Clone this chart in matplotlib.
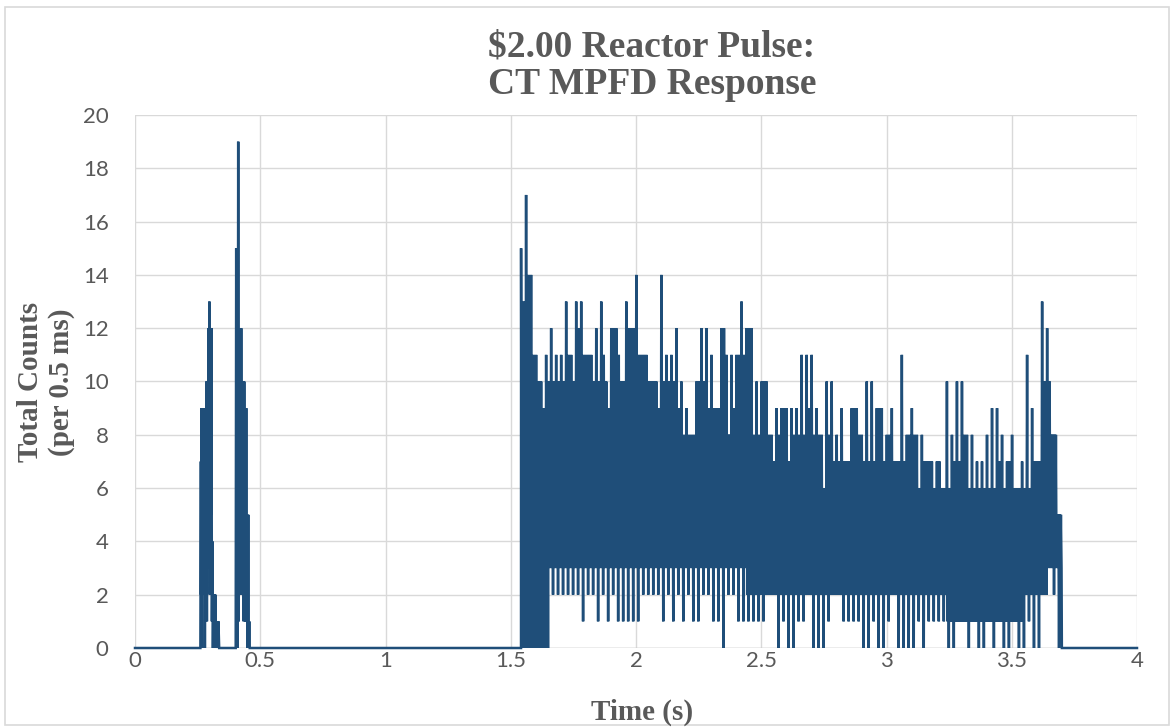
import matplotlib
matplotlib.use("Agg")
import matplotlib.pyplot as plt
from matplotlib.patches import Rectangle

# ---- data -------------------------------------------------------------
# first prompt burst (time in s, counts per 0.5 ms bin)
BURST1_T = [0.261, 0.263, 0.264, 0.265, 0.267, 0.268, 0.270, 0.271, 0.273,
            0.274, 0.276, 0.277, 0.279, 0.281, 0.283, 0.285, 0.287, 0.289,
            0.291, 0.293, 0.295, 0.297, 0.299, 0.301, 0.303, 0.305, 0.307,
            0.309, 0.311, 0.313, 0.315, 0.317, 0.319, 0.321, 0.323, 0.326,
            0.330, 0.333, 0.336]
BURST1_N = [0, 7, 2, 9, 0, 9, 3, 9, 2,
            9, 4, 9, 0, 9, 2, 10, 1, 10,
            3, 12, 4, 13, 2, 12, 5, 12, 1,
            4, 0, 2, 0, 2, 0, 2, 0, 1,
            0, 1, 0]

# second prompt burst
BURST2_T = [0.402, 0.404, 0.406, 0.408, 0.410, 0.412, 0.414, 0.416, 0.418,
            0.420, 0.422, 0.424, 0.426, 0.428, 0.430, 0.432, 0.434, 0.436,
            0.438, 0.440, 0.442, 0.444, 0.446, 0.448, 0.450, 0.452, 0.454,
            0.456, 0.458]
BURST2_N = [0, 15, 0, 15, 0, 19, 1, 12, 3,
            12, 2, 12, 3, 10, 2, 10, 1, 10,
            2, 9, 1, 9, 1, 5, 0, 5, 0,
            1, 0]

# main response, per 20 ms window: highest, second-highest and lowest count
PULSE_T0 = 1.54
PULSE_DT = 0.02
PULSE_HIGH = [15, 17, 14, 11, 10, 11, 12, 11, 11, 13, 11, 13, 13, 11, 11, 12,
              13, 10, 12, 12, 10,
              13, 12, 14, 11, 11, 10, 10, 14, 11, 11, 12, 10, 9, 8, 10, 12,
              12, 11, 9, 12, 11, 11,
              11, 13, 12, 12, 10, 10, 10, 8, 9, 9, 9, 9, 9, 11, 11, 11,
              9, 8, 10, 10, 8,
              9, 7, 9, 9, 8, 10, 10, 9, 9, 8, 9, 7, 11, 8, 9, 8,
              8, 7, 7, 7, 6, 10,
              8, 10, 10, 8, 8, 7, 7, 8, 9, 9, 8, 7, 8, 6, 7, 11,
              9, 7, 13, 12, 8, 5]
PULSE_SECOND = [13, 14, 11, 10, 9, 10, 10, 10, 10, 11, 10, 12, 11, 11, 10, 10,
                11, 9, 12, 11, 10,
                12, 12, 11, 11, 10, 10, 9, 10, 10, 10, 9, 8, 8, 8, 10, 10,
                9, 9, 9, 12, 8, 9,
                11, 11, 12, 8, 8, 10, 8, 7, 8, 9, 7, 8, 8, 8, 9, 8,
                8, 6, 8, 7, 7,
                7, 7, 9, 8, 7, 7, 7, 9, 7, 8, 7, 7, 7, 8, 8, 6,
                7, 7, 6, 7, 6, 6,
                7, 7, 8, 6, 6, 6, 6, 6, 6, 7, 6, 7, 6, 6, 6, 6,
                7, 7, 10, 10, 8, 5]
PULSE_LOW = [0, 0, 0, 0, 0, 0, 2, 2, 2, 2, 2, 2, 1, 2, 2, 1,
             2, 1, 2, 1, 1,
             1, 1, 1, 2, 2, 2, 2, 1, 2, 1, 2, 1, 2, 1, 1, 2,
             2, 1, 1, 0, 2, 2,
             1, 1, 1, 1, 1, 1, 2, 2, 0, 1, 0, 0, 1, 1, 2, 0,
             0, 0, 1, 2, 2,
             1, 1, 1, 1, 0, 0, 1, 0, 0, 1, 2, 0, 0, 0, 0, 1,
             0, 1, 1, 1, 1, 0,
             0, 1, 1, 0, 1, 0, 0, 1, 0, 1, 0, 0, 1, 0, 0, 1,
             0, 0, 2, 3, 2, 0]

# bulk of the counts: the range most bins fall in, per 100 ms block
CORE_DT = 0.10
CORE_LOW = [0, 3, 3, 3, 3, 3, 3, 3, 3, 2, 2, 2, 2, 2, 2, 2, 2, 1, 1, 1, 2, 3]
CORE_HIGH = [9, 9, 9, 9, 8, 8, 7, 8, 8, 7, 6, 7, 6, 6, 6, 5, 5, 5, 5, 5, 6, 8]

X_TICKS = [0, 0.5, 1, 1.5, 2, 2.5, 3, 3.5, 4]
X_TICK_LABELS = ["0", "0.5", "1", "1.5", "2", "2.5", "3", "3.5", "4"]
Y_TICKS = list(range(0, 21, 2))

# ---- assemble the trace -------------------------------------------------
times = [0.0] + BURST1_T + BURST2_T + [PULSE_T0 + 0.001]
counts = [0] + BURST1_N + BURST2_N + [0]
per_block = int(round(CORE_DT / PULSE_DT))
for i, (hi, mid, lo) in enumerate(zip(PULSE_HIGH, PULSE_SECOND, PULSE_LOW)):
    start = PULSE_T0 + PULSE_DT * i
    c_lo = max(CORE_LOW[i // per_block], lo)
    c_hi = min(CORE_HIGH[i // per_block], mid)
    step = PULSE_DT / 8
    seq = [hi, c_lo, c_hi, lo, mid, c_lo, c_hi, c_lo]
    for k, v in enumerate(seq):
        times.append(start + step * (k + 0.5))
        counts.append(v)
times += [PULSE_T0 + PULSE_DT * len(PULSE_HIGH), 4.0]
counts += [0, 0]

# ---- figure -------------------------------------------------------------
W, H = 1174, 727
fig = plt.figure(figsize=(W / 100, H / 100), dpi=100)
fig.patch.set_facecolor("white")

# chart border
fig.patches.append(Rectangle((5 / W, 1 - 725 / H), (1169 - 5) / W, (725 - 7) / H,
                             transform=fig.transFigure, fill=False,
                             edgecolor="#d9d9d9", linewidth=1.2))

ax = fig.add_axes([135 / W, 1 - 648 / H, (1137 - 135) / W, (648 - 115) / H])
ax.plot(times, counts, color="#1F4E79", linewidth=1.8, solid_joinstyle="miter",
        clip_on=False, zorder=3)

ax.set_xlim(0, 4)
ax.set_ylim(0, 20)
ax.set_xticks(X_TICKS)
ax.set_xticklabels(X_TICK_LABELS)
ax.set_yticks(Y_TICKS)
for sp in ax.spines.values():
    sp.set_visible(False)
ax.grid(True, color="#d9d9d9", linewidth=1.0, zorder=0)
ax.axhline(0, color="#bfbfbf", linewidth=1.0, zorder=1)
ax.set_axisbelow(True)
ax.tick_params(length=0, labelsize=16, labelcolor="#595959")
ax.tick_params(axis="y", pad=19)
ax.tick_params(axis="x", pad=2)
for lab in ax.get_xticklabels() + ax.get_yticklabels():
    lab.set_family("Lato")

serif = "Liberation Serif"
fig.text(652 / W, 1 - 66 / H, "$2.00 Reactor Pulse:\nCT MPFD Response",
         ha="center", va="center", fontsize=27, fontweight="bold",
         family=serif, color="#595959", linespacing=1.1, parse_math=False)
fig.text(46 / W, 1 - 382 / H, "Total Counts\n(per 0.5 ms)", rotation=90,
         ha="center", va="center", fontsize=21, fontweight="bold",
         family=serif, color="#595959", linespacing=1.15)
fig.text(642 / W, 1 - 712 / H, "Time (s)", ha="center", va="center",
         fontsize=21, fontweight="bold", family=serif, color="#595959")

fig.savefig("out.png", dpi=100)
